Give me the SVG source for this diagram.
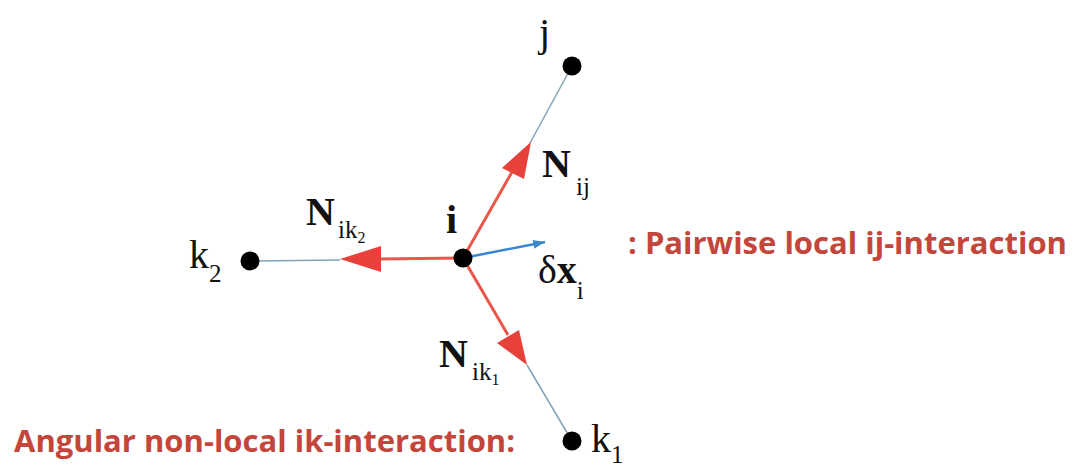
<svg xmlns="http://www.w3.org/2000/svg" width="1084" height="466" viewBox="0 0 1084 466">
<style>
.thin{stroke:#7fa3b8;stroke-width:1.5;fill:none}
.red{stroke:#e8574a;stroke-width:3;fill:none}
.blue{stroke:#3b86d0;stroke-width:2.5;fill:none}
.dot{fill:#000}
.lbl{font-family:"Liberation Serif",serif;font-size:40px;fill:#111}
.b{font-weight:bold}
.n{font-weight:normal}
.sub{font-size:25px}
.sub2{font-size:16px}
.cap{font-family:"Open Sans","Liberation Sans",sans-serif;font-weight:bold;font-size:31px;fill:#c4463b}
</style>
<defs>
<marker id="ab" markerWidth="12" markerHeight="9" refX="12" refY="4.5" orient="auto" markerUnits="userSpaceOnUse" viewBox="0 0 12 9">
<path d="M0,0 L12,4.5 L0,9 z" fill="#3b86d0"/>
</marker>
</defs>
<g id="connectors">
<line class="thin" x1="530" y1="143" x2="572" y2="66"/>
<line class="thin" x1="340" y1="260" x2="250" y2="261"/>
<line class="thin" x1="527" y1="365" x2="572" y2="441"/>
<line class="red" x1="463" y1="258" x2="512" y2="172"/>
<polygon points="531,142 502,168 524,179" fill="#e8403a"/>
<line class="red" x1="463" y1="258" x2="378" y2="259"/>
<polygon points="340,259 381,246 381,272" fill="#e8403a"/>
<line class="red" x1="463" y1="258" x2="508" y2="335"/>
<polygon points="527,365 497,343 519,330" fill="#e8403a"/>
<line class="blue" x1="463" y1="258" x2="545" y2="242" marker-end="url(#ab)"/>
</g>
<g id="node-i"><circle class="dot" cx="463" cy="258" r="9.5"/><text class="lbl b" x="446" y="233" font-size="33">i</text></g>
<g id="node-j"><circle class="dot" cx="572" cy="66" r="9.5"/><text class="lbl" x="539" y="46" font-size="38">j</text></g>
<g id="node-k2"><circle class="dot" cx="250" cy="261" r="9.5"/><text class="lbl" x="189" y="268">k<tspan class="sub" dy="14">2</tspan></text></g>
<g id="node-k1"><circle class="dot" cx="572" cy="441" r="9.5"/><text class="lbl" x="591" y="452">k<tspan class="sub" dy="11">1</tspan></text></g>
<g id="labels">
<text class="lbl b" x="542" y="177" font-size="44">N<tspan class="sub n" x="576" dy="18">ij</tspan></text>
<text class="lbl b" x="306" y="225">N<tspan class="sub n" x="338" dy="13">ik</tspan><tspan class="sub2 n" dy="5">2</tspan></text>
<text class="lbl b" x="439" y="367" font-size="42">N<tspan class="sub n" x="472" dy="13">ik</tspan><tspan class="sub2 n" dy="5">1</tspan></text>
<text class="lbl" x="538" y="283">δ<tspan class="b">x</tspan><tspan class="sub" dy="16">i</tspan></text>
<text class="cap" x="628" y="254">: Pairwise local ij-interaction</text>
<text class="cap" x="14" y="452">Angular non-local ik-interaction:</text>
</g>
</svg>
